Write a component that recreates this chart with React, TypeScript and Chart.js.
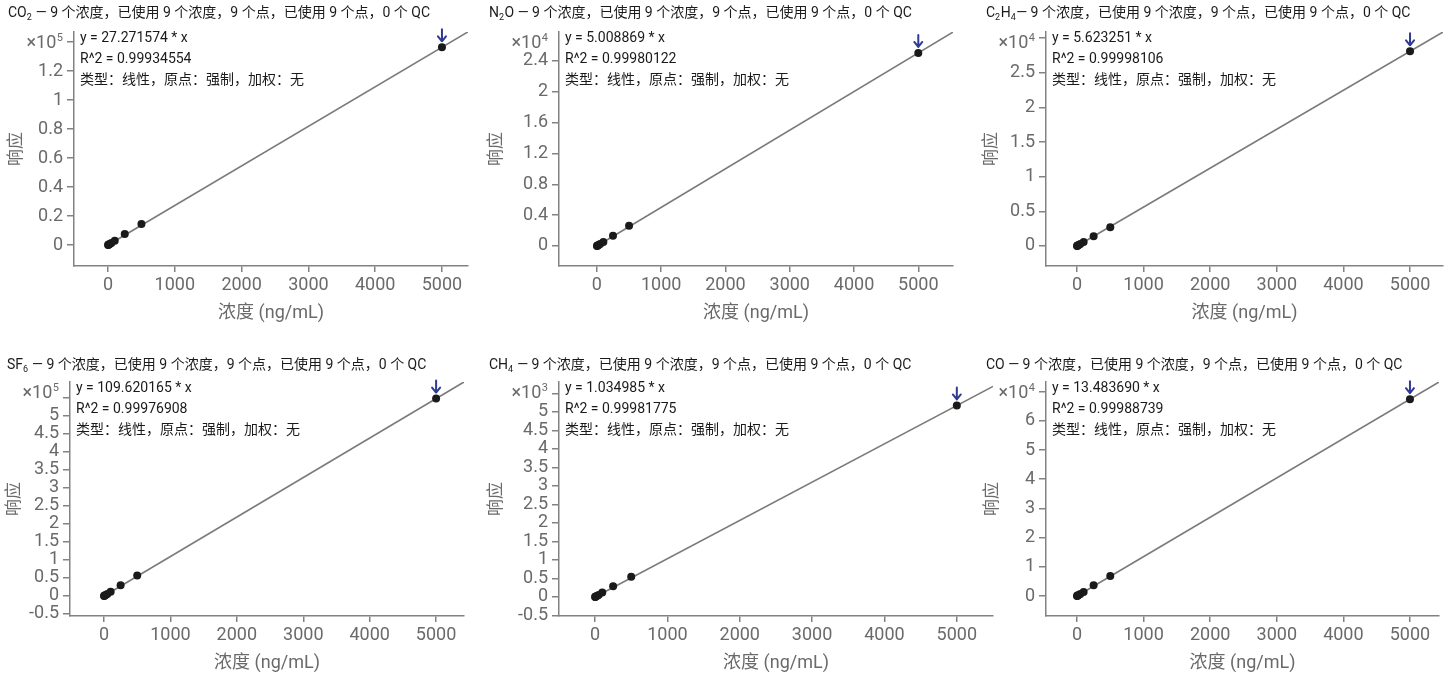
import React, { useEffect, useRef } from 'react';
import { Chart, registerables } from 'chart.js';

Chart.register(...registerables);

const FONT = "Roboto, 'Noto Sans CJK SC', 'Noto Sans', sans-serif";
const AXIS_GREY = '#828282';
const TEXT_GREY = '#6a6a6a';
const INK = '#1a1a1a';
const ARROW_BLUE = '#2f3a93';

// ---------- data ----------
const concentrations = [1, 5, 10, 25, 50, 100, 250, 500, 5000];

const co2Response = [30, 140, 290, 700, 1400, 2900, 7600, 14500, 136358];
const n2oResponse = [5, 26, 51, 128, 255, 520, 1320, 2620, 25044];
const c2h4Response = [6, 28, 56, 141, 282, 565, 1400, 2700, 28116];
const sf6Response = [110, 550, 1100, 2800, 5600, 11500, 30000, 56500, 548101];
const ch4Response = [1, 5, 11, 27, 55, 120, 290, 550, 5175];
const coResponse = [14, 68, 136, 340, 680, 1380, 3700, 6850, 67418];

const slopes = [27.271574, 5.008869, 5.623251, 109.620165, 1.034985, 13.48369];

const titles = [
  'CO{2} — 9 个浓度，已使用 9 个浓度，9 个点，已使用 9 个点，0 个 QC',
  'N{2}O — 9 个浓度，已使用 9 个浓度，9 个点，已使用 9 个点，0 个 QC',
  'C{2}H{4}— 9 个浓度，已使用 9 个浓度，9 个点，已使用 9 个点，0 个 QC',
  'SF{6} — 9 个浓度，已使用 9 个浓度，9 个点，已使用 9 个点，0 个 QC',
  'CH{4} — 9 个浓度，已使用 9 个浓度，9 个点，已使用 9 个点，0 个 QC',
  'CO — 9 个浓度，已使用 9 个浓度，9 个点，已使用 9 个点，0 个 QC',
];
const equations = [
  'y = 27.271574 * x',
  'y = 5.008869 * x',
  'y = 5.623251 * x',
  'y = 109.620165 * x',
  'y = 1.034985 * x',
  'y = 13.483690 * x',
];
const r2Labels = [
  'R^2 = 0.99934554',
  'R^2 = 0.99980122',
  'R^2 = 0.99998106',
  'R^2 = 0.99976908',
  'R^2 = 0.99981775',
  'R^2 = 0.99988739',
];
const fitInfo = '类型：线性，原点：强制，加权：无';
const xAxisTitle = '浓度 (ng/mL)';
const yAxisTitle = '响应';

const xTicks = [0, 1000, 2000, 3000, 4000, 5000];
const co2YTicks = [0, 20000, 40000, 60000, 80000, 100000, 120000, 140000];
const n2oYTicks = [0, 4000, 8000, 12000, 16000, 20000, 24000, 28000];
const c2h4YTicks = [0, 5000, 10000, 15000, 20000, 25000, 30000];
const sf6YTicks = [-50000, 0, 50000, 100000, 150000, 200000, 250000, 300000, 350000, 400000, 450000, 500000, 550000];
const ch4YTicks = [-500, 0, 500, 1000, 1500, 2000, 2500, 3000, 3500, 4000, 4500, 5000, 5500];
const coYTicks = [0, 10000, 20000, 30000, 40000, 50000, 60000, 70000];

const exponents = [5, 4, 4, 5, 3, 4];
// tick values at/above these carry no number (the exponent label sits there)
const yLabelLimits = [140000, 28000, 30000, 550000, 5500, 70000];

const xRanges = [
  [-510, 5390],
  [-590, 5540],
  [-465, 5495],
  [-512, 5420],
  [-498, 5500],
  [-465, 5436],
];
const yRanges = [
  [-14480, 146900],
  [-2600, 27760],
  [-2890, 30900],
  [-55600, 594000],
  [-514, 5810],
  [-6850, 73300],
];

const responses = [co2Response, n2oResponse, c2h4Response, sf6Response, ch4Response, coResponse];
const yTickSets = [co2YTicks, n2oYTicks, c2h4YTicks, sf6YTicks, ch4YTicks, coYTicks];

// ---------- layout (page pixels) ----------
const panels = [
  { left: 0, top: 0, areaLeft: 74, areaRight: 468, areaTop: 32, areaBottom: 266, titleX: 8, titleY: 13, yTitlePad: 6.8 },
  { left: 483, top: 0, areaLeft: 559, areaRight: 953, areaTop: 32, areaBottom: 266, titleX: 489, titleY: 13, yTitlePad: 3.8 },
  { left: 966, top: 0, areaLeft: 1046, areaRight: 1443, areaTop: 32, areaBottom: 266, titleX: 986, titleY: 13, yTitlePad: 15.8 },
  { left: 0, top: 350, areaLeft: 70, areaRight: 464, areaTop: 382, areaBottom: 616, titleX: 7, titleY: 365, yTitlePad: 4.8 },
  { left: 483, top: 350, areaLeft: 559, areaRight: 993, areaTop: 382, areaBottom: 616, titleX: 489, titleY: 365, yTitlePad: 3.8 },
  { left: 966, top: 350, areaLeft: 1046, areaRight: 1439, areaTop: 382, areaBottom: 616, titleX: 986, titleY: 365, yTitlePad: 16.8 },
];

function fmt(v: number): string {
  return String(parseFloat(v.toFixed(2)));
}

function drawRich(ctx: CanvasRenderingContext2D, text: string, x: number, y: number) {
  const parts = text.split(/(\{[^}]+\})/).filter((s) => s.length > 0);
  let cx = x;
  ctx.textAlign = 'left';
  ctx.textBaseline = 'middle';
  ctx.fillStyle = INK;
  for (const part of parts) {
    const sub = part.startsWith('{');
    const t = sub ? part.slice(1, -1) : part;
    ctx.font = sub ? `9px ${FONT}` : `14px ${FONT}`;
    ctx.fillText(t, cx, sub ? y + 5 : y);
    cx += ctx.measureText(t).width + (sub ? 0.5 : 0);
  }
}

function makeOverlay(i: number) {
  const p = panels[i];
  return {
    id: 'overlay' + i,
    afterDatasetsDraw(chart: any) {
      const ctx: CanvasRenderingContext2D = chart.ctx;
      const meta = chart.getDatasetMeta(0);
      const pt = meta.data[meta.data.length - 1];
      if (!pt) return;
      const x = pt.x;
      const tip = pt.y - 6;
      ctx.save();
      ctx.strokeStyle = ARROW_BLUE;
      ctx.lineWidth = 2;
      ctx.lineCap = 'round';
      ctx.lineJoin = 'round';
      ctx.beginPath();
      ctx.moveTo(x, tip - 12);
      ctx.lineTo(x, tip);
      ctx.moveTo(x - 4, tip - 5);
      ctx.lineTo(x, tip);
      ctx.lineTo(x + 4, tip - 5);
      ctx.stroke();
      ctx.restore();
    },
    afterDraw(chart: any) {
      const ctx: CanvasRenderingContext2D = chart.ctx;
      const area = chart.chartArea;
      ctx.save();
      // panel title
      drawRich(ctx, titles[i], p.titleX - p.left, p.titleY - p.top);
      // fit annotation
      ctx.font = `14px ${FONT}`;
      ctx.fillStyle = INK;
      ctx.textAlign = 'left';
      ctx.textBaseline = 'middle';
      const ax = area.left + 6;
      ctx.fillText(equations[i], ax, area.top + 6);
      ctx.fillText(r2Labels[i], ax, area.top + 27);
      ctx.fillText(fitInfo, ax, area.top + 48);
      // exponent label
      const right = area.left - 11;
      const cy = area.top + 11;
      ctx.fillStyle = TEXT_GREY;
      ctx.font = `11px ${FONT}`;
      const sup = String(exponents[i]);
      const wSup = ctx.measureText(sup).width;
      ctx.textAlign = 'right';
      ctx.fillText(sup, right, cy - 5);
      ctx.font = `18px ${FONT}`;
      ctx.fillText('×10', right - wSup - 0.5, cy);
      ctx.restore();
    },
  };
}

function Panel({ i }: { i: number }) {
  const ref = useRef<HTMLCanvasElement>(null);
  const p = panels[i];
  const width = Math.min(p.areaRight + 12, 1450) - p.left;
  const height = p.areaBottom + 60 - p.top;

  useEffect(() => {
    const exp = exponents[i];
    const div = Math.pow(10, exp);
    const ys = responses[i];
    const [xMin, xMax] = xRanges[i];
    const [yMin, yMax] = yRanges[i];
    const yTicks = yTickSets[i].filter((v) => v >= yMin && v <= yMax);
    const chart = new Chart(ref.current as HTMLCanvasElement, {
      type: 'scatter',
      data: {
        datasets: [
          {
            type: 'scatter',
            data: concentrations.map((x, k) => ({ x, y: ys[k] })),
            pointRadius: 4,
            pointBackgroundColor: INK,
            pointBorderWidth: 0,
            order: 0,
          } as any,
          {
            type: 'line',
            data: [
              { x: 0, y: 0 },
              { x: xMax, y: slopes[i] * xMax },
            ],
            borderColor: '#7b7b7b',
            borderWidth: 1.6,
            pointRadius: 0,
            order: 1,
          } as any,
        ],
      },
      options: {
        animation: false,
        responsive: false,
        devicePixelRatio: 1,
        events: [],
        layout: {
          padding: { left: 0, top: p.areaTop - p.top, right: p.left + width - p.areaRight, bottom: 0 },
        },
        plugins: {
          legend: { display: false },
          tooltip: { enabled: false },
          title: { display: false },
        },
        scales: {
          x: {
            type: 'linear',
            min: xMin,
            max: xMax,
            afterBuildTicks: (s: any) => {
              s.ticks = xTicks.map((v) => ({ value: v }));
            },
            afterFit: (s: any) => {
              s.height = 60;
            },
            grid: { display: true, drawOnChartArea: false, drawTicks: true, tickLength: 6, color: AXIS_GREY, lineWidth: 1.5 },
            border: { display: true, color: AXIS_GREY, width: 1.5 },
            ticks: {
              color: TEXT_GREY,
              font: { family: FONT, size: 18 },
              padding: 3,
              autoSkip: false,
              maxRotation: 0,
              callback: (v: any) => String(v),
            },
            title: {
              display: true,
              text: xAxisTitle,
              color: TEXT_GREY,
              font: { family: FONT, size: 18 },
              padding: { top: 0, bottom: 2 },
            },
          },
          y: {
            type: 'linear',
            min: yMin,
            max: yMax,
            afterBuildTicks: (s: any) => {
              s.ticks = yTicks.map((v) => ({ value: v }));
            },
            afterFit: (s: any) => {
              s.width = p.areaLeft - p.left;
            },
            grid: { display: true, drawOnChartArea: false, drawTicks: true, tickLength: 7, color: AXIS_GREY, lineWidth: 1.5 },
            border: { display: true, color: AXIS_GREY, width: 1.5 },
            ticks: {
              color: TEXT_GREY,
              font: { family: FONT, size: 18 },
              padding: 4,
              autoSkip: false,
              callback: (v: any) => (Number(v) >= yLabelLimits[i] ? '' : fmt(Number(v) / div)),
            },
            title: {
              display: true,
              text: yAxisTitle,
              color: TEXT_GREY,
              font: { family: FONT, size: 17 },
              padding: { top: p.yTitlePad, bottom: 0 },
            },
          },
        },
      } as any,
      plugins: [makeOverlay(i)],
    });
    return () => chart.destroy();
  }, []);

  return (
    <canvas
      ref={ref}
      width={width}
      height={height}
      style={{ position: 'absolute', left: p.left, top: p.top, width, height }}
    />
  );
}

export default function App() {
  return (
    <div
      style={{
        position: 'absolute',
        left: 0,
        top: 0,
        width: 1450,
        height: 677,
        overflow: 'hidden',
        background: '#ffffff',
      }}
    >
      {panels.map((_, i) => (
        <Panel key={i} i={i} />
      ))}
    </div>
  );
}
